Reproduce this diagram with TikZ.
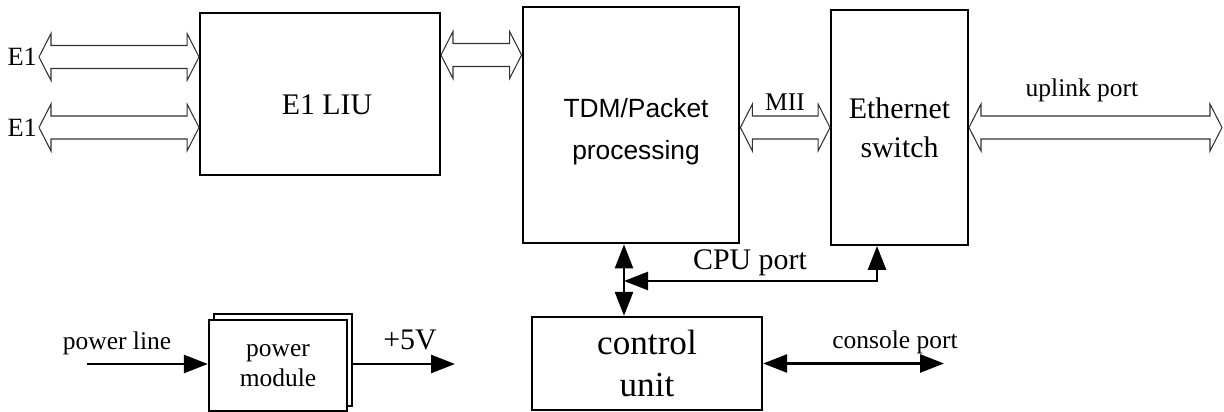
\documentclass[tikz,border=0pt]{standalone}
\usepackage{fontspec}
\setmainfont{Liberation Serif}
\newfontfamily\tdmfont{Liberation Sans}
\usetikzlibrary{arrows.meta,calc,positioning}

\tikzset{
  box/.style={draw, line width=1.1pt, inner sep=0pt, align=center, font=\fontsize{17}{22}\selectfont},
  lbl/.style={font=\fontsize{14.5}{17}\selectfont, inner sep=1pt},
  fat/.style={draw=black!80, line width=.6pt, fill=white, line join=miter},
  conn/.style={line width=1.5pt, {Triangle[length=.48cm,width=.36cm]}-{Triangle[length=.48cm,width=.36cm]}},
  oneway/.style={line width=1.5pt, -{Triangle[length=.48cm,width=.36cm]}}
}
% hollow two-headed arrow between two points at the same height
\newcommand{\fatlink}[2]{%
  \draw[fat] (#1) -- ++(.24,.47) -- ++(0,-.24) -- ($(#2)+(-.24,.23)$) -- ++(0,.24) -- (#2)
    -- ++(-.24,-.47) -- ++(0,.24) -- ($(#1)+(.24,-.23)$) -- ++(0,-.24) -- cycle;}

\begin{document}
\begin{tikzpicture}
\useasboundingbox (0,0) rectangle (24.48,-8.24);
% blocks
\node[box, minimum width=4.8cm, minimum height=3.24cm] (liu) at (6.4,-1.88) {};
\node[font=\fontsize{17}{22}\selectfont] (liutext) at (6.54,-2.1) {E1 LIU};
\node[box, line width=1.6pt, minimum width=4.32cm, minimum height=4.72cm] (tdm) at (12.62,-2.5) {};
\node[align=center, font=\tdmfont\fontsize{15}{24}\selectfont] (tdmtext) at (12.72,-2.64) {TDM/Packet\\processing};
\node[box, minimum width=2.74cm, minimum height=4.7cm] (eth) at (17.99,-2.55) {Ethernet\\switch};
\node[box, line width=1.3pt, minimum width=4.6cm, minimum height=1.86cm, font=\fontsize{20}{24}\selectfont] (ctrl) at (12.94,-7.27) {control\\unit};
\node[box, line width=1.3pt, minimum width=2.76cm, minimum height=1.84cm] (pwrback) at (5.66,-7.2) {};
\node[box, line width=1.3pt, fill=white, minimum width=2.76cm, minimum height=1.82cm, font=\fontsize{14.5}{17}\selectfont] (pwr) at (5.56,-7.31) {power\\module};

% hollow links
\coordinate (e1a) at (0.78,-1.14);
\coordinate (e1b) at (0.78,-2.55);
\coordinate (e1aend) at (e1a -| liu.west);
\coordinate (e1bend) at (e1b -| liu.west);
\path (liu.east) ++(0,.78) coordinate (lt);
\coordinate (ltend) at (lt -| tdm.west);
\coordinate (mii) at (tdm.east |- eth.east);
\coordinate (up) at (24.44,-2.55);
\fatlink{e1a}{e1aend}
\fatlink{e1b}{e1bend}
\fatlink{lt}{ltend}
\fatlink{mii}{eth.west}
\fatlink{eth.east}{up}
\node[lbl, font=\fontsize{15}{17}\selectfont, anchor=east] (e1atext) at (e1a) {E1};
\node[lbl, font=\fontsize{15}{17}\selectfont, anchor=east] (e1btext) at (e1b) {E1};
\node[lbl] (miitext) at (15.7,-2.04) {MII};
\node[lbl] (uptext) at (21.64,-1.8) {uplink port};

% cpu port
\coordinate (cpu) at (12.48,-5.62);
\draw[conn] (tdm.south -| cpu) -- (ctrl.north -| cpu);
\draw[conn] (cpu) -| ($(eth.south)+(-.45,0)$);
\node[font=\fontsize{17}{22}\selectfont] (cputext) at (15,-5.26) {CPU port};

% console
\coordinate (con) at (18.88,-7.27);
\draw[conn] (ctrl.east) -- (con);
\node[lbl] (context) at (17.9,-6.84) {console port};

% power
\coordinate (pl) at (1.74,-7.28);
\draw[oneway] (pl) -- (pl -| pwr.west);
\node[lbl] (pltext) at (2.34,-6.86) {power line};
\coordinate (v5) at (9.1,-7.28);
\draw[oneway] (v5 -| pwrback.east) -- (v5);
\node[font=\fontsize{17}{22}\selectfont] (v5text) at (8.2,-6.8) {+5V};
\end{tikzpicture}
\end{document}
